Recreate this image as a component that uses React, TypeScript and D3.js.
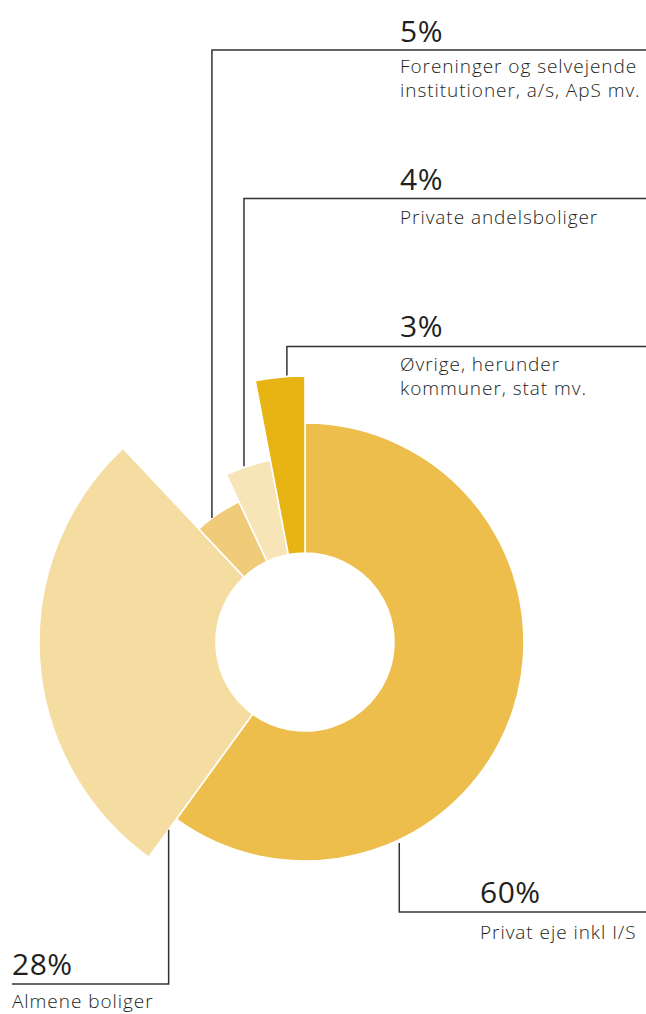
import React from "react";
import * as d3 from "d3";

// ---- data ----
const categories = [
  "Privat eje inkl I/S",
  "Almene boliger",
  "Foreninger og selvejende institutioner, a/s, ApS mv.",
  "Private andelsboliger",
  "Øvrige, herunder kommuner, stat mv.",
];
const shares = [60, 28, 5, 4, 3];
const percentLabels = ["60%", "28%", "5%", "4%", "3%"];
const labelLines = [
  ["Privat eje inkl I/S"],
  ["Almene boliger"],
  ["Foreninger og selvejende", "institutioner, a/s, ApS mv."],
  ["Private andelsboliger"],
  ["Øvrige, herunder", "kommuner, stat mv."],
];

// ---- styling / layout ----
const W = 646;
const H = 1014;
const cx = 305;
const cy = 642;
const innerR = 89;
const outerRadii = [219, 266, 155, 185, 266];
const colors = ["#EDBE4C", "#F5DCA0", "#F0CB7A", "#F7E4B7", "#E7B414"];
const FONT = "'Open Sans', 'DejaVu Sans', sans-serif";
const TEXT = "#231f20";
const LINE = "#333333";

const anchorFrac = [0.717, 0.0, 0.35, 0.42, 0.64];
const anchorR = [222, 232, 155, 186, 267];
const hLineY = [912, 984, 50, 198.5, 346.5];
const hLineEnd = [646, 12, 646, 646, 646];
const pctPos = [
  [480, 903],
  [12, 975],
  [400, 42],
  [400, 190],
  [400, 337],
];
const textPos = [
  [480, 939],
  [12, 1008],
  [400, 73],
  [400, 224],
  [400, 371],
];
const lineGap = 24;

export default function App() {
  const pie = d3
    .pie<number>()
    .sort(null)
    .value((d) => d)
    .startAngle(0)
    .endAngle(2 * Math.PI);
  const arcs = pie(shares);

  return (
    <svg
      width={W}
      height={H}
      style={{ position: "absolute", left: 0, top: 0, background: "#fff" }}
      fontFamily={FONT}
    >
      <g transform={`translate(${cx},${cy})`}>
        {arcs.map((a, i) => {
          const path = d3
            .arc<d3.PieArcDatum<number>>()
            .innerRadius(innerR)
            .outerRadius(outerRadii[i])(a);
          return (
            <path
              key={categories[i]}
              d={path || ""}
              fill={colors[i]}
              stroke="#fff"
              strokeWidth={1.6}
            />
          );
        })}
      </g>
      {arcs.map((a, i) => {
        const ang = a.startAngle + (a.endAngle - a.startAngle) * anchorFrac[i];
        const ax = cx + anchorR[i] * Math.sin(ang);
        const ay = cy - anchorR[i] * Math.cos(ang);
        const hy = hLineY[i];
        return (
          <g key={"lbl" + i}>
            <polyline
              points={`${ax},${ay} ${ax},${hy} ${hLineEnd[i]},${hy}`}
              fill="none"
              stroke={LINE}
              strokeWidth={1.5}
            />
            <text
              x={pctPos[i][0]}
              y={pctPos[i][1]}
              fontSize={30}
              fill={TEXT}
              fontWeight={400}
              letterSpacing={0.5}
            >
              {percentLabels[i]}
            </text>
            {labelLines[i].map((ln, j) => (
              <text
                key={j}
                x={textPos[i][0]}
                y={textPos[i][1] + j * lineGap}
                fontSize={19}
                fill={TEXT}
                fontWeight={300}
                letterSpacing={0.95}
              >
                {ln}
              </text>
            ))}
          </g>
        );
      })}
    </svg>
  );
}
